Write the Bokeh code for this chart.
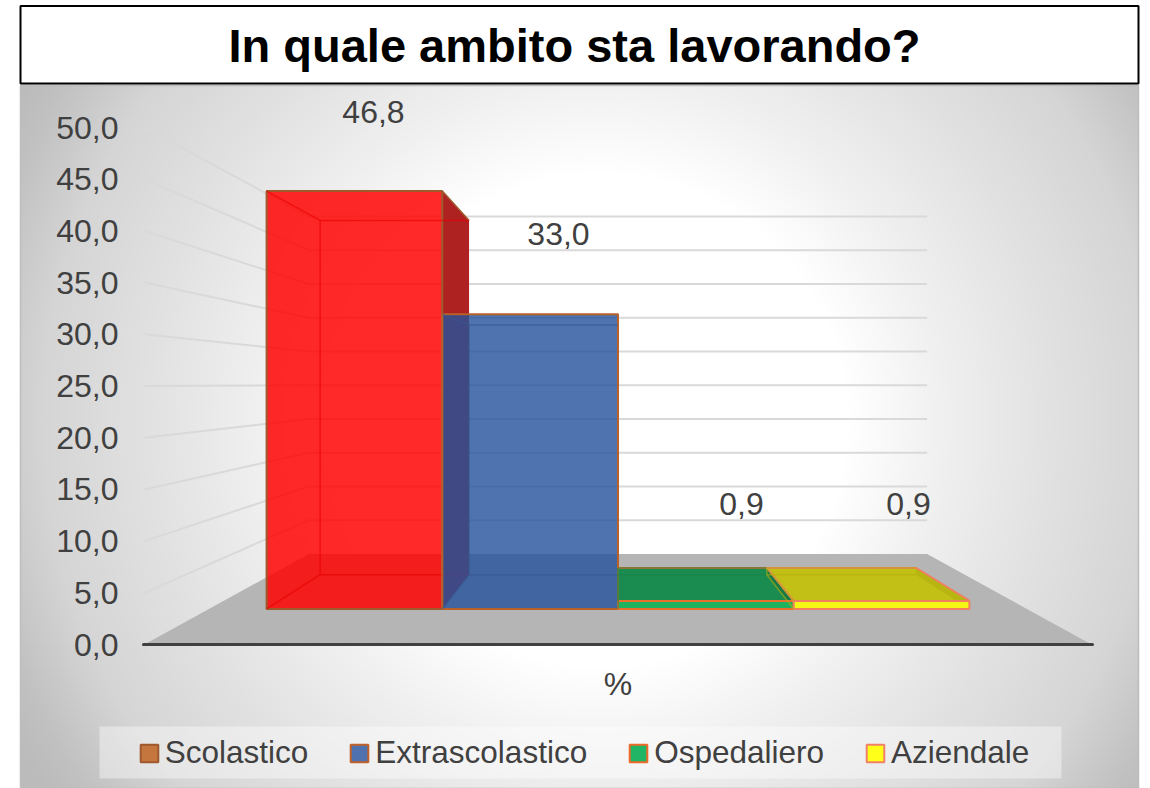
import numpy as np
from bokeh.embed import file_html
from bokeh.resources import INLINE
from bokeh.plotting import figure
from bokeh.models import Range1d, FixedTicker, Legend, LegendItem

# ---- data ----
title_text = "In quale ambito sta lavorando?"
categories = ["Scolastico", "Extrascolastico", "Ospedaliero", "Aziendale"]
values = [46.8, 33.0, 0.9, 0.9]
value_labels = ["46,8", "33,0", "0,9", "0,9"]
tick_values = [0, 5, 10, 15, 20, 25, 30, 35, 40, 45, 50]
tick_labels = ["0,0", "5,0", "10,0", "15,0", "20,0", "25,0", "30,0", "35,0", "40,0", "45,0", "50,0"]
axis_category = "%"

# ---- styles ----
front_fill = ["#ff0000", "#26539b", "#1fb25f", "#f5f516"]
front_alpha = [0.84, 0.81, 1.0, 1.0]
side_fill = ["#ae2222", "#26539b", "#167a45", "#b8b512"]
top_fill = ["#ff0000", "#26539b", "#1b8c50", "#c2bf16"]
top_alpha = [0.0, 0.0, 1.0, 1.0]
edge_color = ["#9e5a2c", "#b8622a", "#e8702a", "#f08060"]
inner_color = ["#e80000", "#37568f", "#17804a", "#b3b00f"]
legend_fill = ["#c5763f", "#4f72ae", "#22b566", "#ffff1a"]
legend_edge = ["#9e5a2e", "#c0602a", "#ee6a2a", "#f0806a"]
TEXT = "#404040"
FONT = "Liberation Sans"
FS = "32px"

# ---- pixel helper and perspective of the 3-D box ----
PX_PER_UNIT = 10.34
AXIS_Y = 644.0


def Y(px):
    return (AXIS_Y - px) / PX_PER_UNIT


CX = 617.5
DEPTH = 25.2
S_FRONT, S_BAR_F, S_BAR_B, S_BACK = 10.34, 8.93, 7.57, 6.75
FLOOR_X = 45.8
BAR_X0, BAR_W = -39.35, 19.675


def proj(X, v, s):
    return CX + X * s, Y(AXIS_Y - DEPTH * (S_FRONT - s) - v * s)


def poly(points):
    xs, ys = zip(*points)
    return list(xs), list(ys)


p = figure(
    width=1150, height=788, output_backend="svg", toolbar_location=None,
    x_range=Range1d(0, 1150), y_range=Range1d(Y(788), Y(0)),
    min_border=0, outline_line_color=None,
    styles={"position": "absolute", "left": "0px", "top": "0px"},
)
p.grid.visible = False

# ---- background gradient ----
gx0, gx1, gy0, gy1 = 20, 1138, 84, 788
nx, ny = 559, 352
xx = np.linspace(gx0, gx1, nx)
yy = np.linspace(gy1, gy0, ny)  # row 0 is the bottom
mx, my = np.meshgrid(xx, yy)
r = np.hypot(mx - 600, my - 420)
g = np.interp(r, [0, 250, 337, 450, 560, 634, 670], [255, 255, 241, 226, 213, 193, 187])
img = np.zeros((ny, nx), dtype=np.uint32)
view = img.view(dtype=np.uint8).reshape((ny, nx, 4))
view[..., 0] = view[..., 1] = view[..., 2] = g.astype(np.uint8)
view[..., 3] = 255
p.image_rgba(image=[img], x=gx0, y=Y(gy1), dw=gx1 - gx0, dh=Y(gy0) - Y(gy1))
p.quad(left=[gx0], right=[gx1], top=[Y(gy0 + 1)], bottom=[Y(gy1)], fill_alpha=0,
       line_color="#bdbdbd", line_width=1.5)

# ---- floor ----
fx, fy = poly([proj(-FLOOR_X, 0, S_FRONT), proj(FLOOR_X, 0, S_FRONT),
               proj(FLOOR_X, 0, S_BACK), proj(-FLOOR_X, 0, S_BACK)])
p.patch(fx, fy, fill_color="#b5b5b5", line_color=None)

# ---- gridlines on the left and back walls ----
gl_x, gl_y = [], []
for v in tick_values[1:]:
    a = proj(-FLOOR_X, v, S_FRONT)
    b = proj(-FLOOR_X, v, S_BACK)
    c = proj(FLOOR_X, v, S_BACK)
    gl_x.append([a[0], b[0], c[0]])
    gl_y.append([a[1], b[1], c[1]])
p.multi_line(gl_x, gl_y, line_color="#d9d9d9", line_width=2)

# ---- bars ----
for i, v in enumerate(values):
    xl, xr = BAR_X0 + i * BAR_W, BAR_X0 + (i + 1) * BAR_W
    flb, frb = proj(xl, 0, S_BAR_F), proj(xr, 0, S_BAR_F)
    flt, frt = proj(xl, v, S_BAR_F), proj(xr, v, S_BAR_F)
    blb, brb = proj(xl, 0, S_BAR_B), proj(xr, 0, S_BAR_B)
    blt, brt = proj(xl, v, S_BAR_B), proj(xr, v, S_BAR_B)

    tx, ty = poly([flt, frt, brt, blt])
    if top_alpha[i] > 0:
        p.patch(tx, ty, fill_color=top_fill[i], fill_alpha=top_alpha[i],
                line_color=edge_color[i], line_width=2)
    sx, sy = poly([frt, brt, brb, frb])
    p.patch(sx, sy, fill_color=side_fill[i], line_color=None)
    p.line([frt[0], brt[0]], [frt[1], brt[1]], line_color=edge_color[i], line_width=1.5)
    ffx, ffy = poly([flb, frb, frt, flt])
    p.patch(ffx, ffy, fill_color=front_fill[i], fill_alpha=front_alpha[i],
            line_color=edge_color[i], line_width=2)
    p.multi_line(
        [[flt[0], blt[0], brt[0]], [blt[0], blb[0], brb[0]], [flb[0], blb[0]]],
        [[flt[1], blt[1], brt[1]], [blt[1], blb[1], brb[1]], [flb[1], blb[1]]],
        line_color=inner_color[i], line_width=1.5, line_alpha=0.6,
    )

# ---- data labels ----
label_x = [373, 558, 741, 908]
label_y = [111, 233, 503, 503]
p.text(x=label_x, y=[Y(a) for a in label_y], text=value_labels, text_align="center",
       text_baseline="middle", text_color=TEXT, text_font={"value": FONT}, text_font_size=FS)

# ---- axes ----
yax = p.yaxis[0]
yax.fixed_location = 124
yax.ticker = FixedTicker(ticks=tick_values)
yax.major_label_overrides = dict(zip(tick_values, tick_labels))
yax.axis_line_color = None
yax.major_tick_line_color = None
yax.minor_tick_line_color = None
yax.major_label_standoff = 0
yax.major_label_text_font = FONT
yax.major_label_text_font_size = FS
yax.major_label_text_color = TEXT

xax = p.xaxis[0]
xax.fixed_location = 0
xax.bounds = (143, 1092)
xax.ticker = FixedTicker(ticks=[CX])
xax.major_label_overrides = {CX: axis_category}
xax.axis_line_color = "#404040"
xax.axis_line_width = 3
xax.axis_line_cap = "round"
xax.major_tick_line_color = None
xax.minor_tick_line_color = None
xax.major_label_standoff = 15
xax.major_label_text_font = FONT
xax.major_label_text_font_size = FS
xax.major_label_text_color = TEXT

# ---- title box ----
p.quad(left=[20], right=[1138], top=[Y(5.5)], bottom=[Y(83)], fill_color="white",
       line_color="black", line_width=2)
p.text(x=[574], y=[Y(45)], text=[title_text], text_align="center", text_baseline="middle",
       text_color="black", text_font={"value": FONT}, text_font_style="bold", text_font_size="47px")

# ---- legend ----
p.quad(left=[99], right=[1061], top=[Y(726)], bottom=[Y(778)], fill_color="white",
       fill_alpha=0.4, line_color=None)
items = []
for i, c in enumerate(categories):
    r_ = p.quad(left=[np.nan], right=[np.nan], top=[np.nan], bottom=[np.nan],
                fill_color=legend_fill[i], line_color=legend_edge[i], line_width=2)
    items.append(LegendItem(label=c, renderers=[r_]))
legend = Legend(items=items, orientation="horizontal", location=(137.75, 17),
                glyph_width=22, glyph_height=22, label_standoff=5, spacing=40,
                padding=0, margin=0, background_fill_alpha=0, border_line_color=None,
                label_text_font=FONT, label_text_font_size="31.5px", label_text_color=TEXT)
p.add_layout(legend)

open("out.html", "w").write(file_html(p, INLINE))
